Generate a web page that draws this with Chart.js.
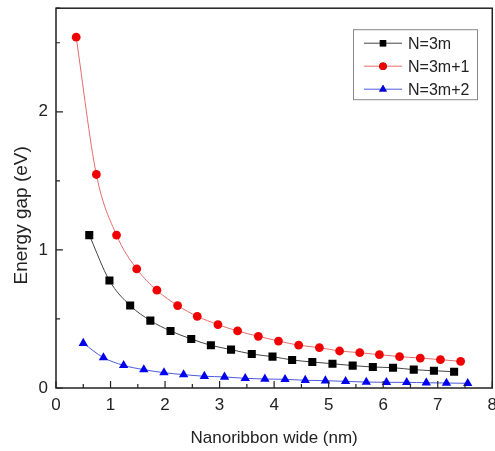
<!DOCTYPE html>
<html>
<head>
<meta charset="utf-8">
<script src="https://cdn.jsdelivr.net/npm/chart.js@4"></script>
<style>
  html, body { margin: 0; padding: 0; background: #fff; overflow: hidden; }
  #wrap { width: 495px; height: 451px; overflow: hidden; }
  #c { display: block; margin-top: -10px; }
</style>
</head>
<body>
<div id="wrap"><canvas id="c" width="504" height="461"></canvas></div>
<script>
// N=3m
const wide3m = [0.61, 0.98, 1.36, 1.73, 2.10, 2.48, 2.84, 3.21, 3.59, 3.97, 4.33, 4.70, 5.07, 5.44, 5.81, 6.18, 6.56, 6.93, 7.30];
const gap3m  = [1.107, 0.778, 0.597, 0.488, 0.413, 0.355, 0.309, 0.278, 0.246, 0.227, 0.203, 0.188, 0.176, 0.162, 0.152, 0.147, 0.133, 0.125, 0.118];
// N=3m+1
const wide3m1 = [0.37, 0.74, 1.11, 1.48, 1.85, 2.23, 2.59, 2.97, 3.33, 3.71, 4.08, 4.45, 4.83, 5.20, 5.57, 5.93, 6.30, 6.68, 7.05, 7.42];
const gap3m1  = [2.54, 1.546, 1.107, 0.862, 0.708, 0.597, 0.519, 0.459, 0.413, 0.374, 0.340, 0.310, 0.292, 0.268, 0.256, 0.241, 0.227, 0.217, 0.205, 0.193];
// N=3m+2
const wide3m2 = [0.50, 0.87, 1.24, 1.61, 1.98, 2.34, 2.72, 3.09, 3.47, 3.83, 4.20, 4.57, 4.94, 5.31, 5.69, 6.06, 6.43, 6.79, 7.16, 7.55];
const gap3m2  = [0.324, 0.220, 0.164, 0.133, 0.111, 0.097, 0.085, 0.080, 0.070, 0.065, 0.063, 0.056, 0.053, 0.048, 0.043, 0.041, 0.041, 0.038, 0.036, 0.034];

const seriesNames = ["N=3m", "N=3m+1", "N=3m+2"];
const xTitle = "Nanoribbon wide (nm)";
const yTitle = "Energy gap (eV)";

const FONT = "'Liberation Sans', Arial, sans-serif";
const TEXT = "#222";

function pts(xs, ys) { return xs.map((x, i) => ({ x: x, y: ys[i] })); }

// inward ticks, frame, y title and legend box drawn on top of the chart
const framePlugin = {
  id: "frame",
  afterDraw(chart) {
    const ctx = chart.ctx, a = chart.chartArea;
    const xs = chart.scales.x, ys = chart.scales.y;
    ctx.save();
    ctx.strokeStyle = "#222";
    ctx.lineWidth = 1.5;
    ctx.strokeRect(a.left, a.top, a.right - a.left, a.bottom - a.top);

    ctx.lineWidth = 1.2;
    ctx.beginPath();
    xs.ticks.forEach(t => {
      const px = xs.getPixelForValue(t.value);
      const len = Number.isInteger(t.value) ? 7 : 4;
      ctx.moveTo(px, a.bottom); ctx.lineTo(px, a.bottom - len);
    });
    ys.ticks.forEach(t => {
      const py = ys.getPixelForValue(t.value);
      const len = Number.isInteger(t.value) ? 7 : 4;
      ctx.moveTo(a.left, py); ctx.lineTo(a.left + len, py);
    });
    ctx.stroke();

    // y title, a bit below the middle of the axis like the original
    ctx.save();
    ctx.translate(22, ys.getPixelForValue(1.25));
    ctx.rotate(-Math.PI / 2);
    ctx.font = "19px " + FONT;
    ctx.fillStyle = TEXT;
    ctx.textAlign = "center";
    ctx.textBaseline = "middle";
    ctx.fillText(yTitle, 0, 0);
    ctx.restore();

    // legend (box sits 21px below the frame top)
    const bx = 353, by = a.top + 21, bw = 124, bh = 70;
    ctx.lineWidth = 1;
    ctx.strokeStyle = "#888";
    ctx.strokeRect(bx + 0.5, by + 0.5, bw, bh);
    ctx.font = "16px " + FONT;
    ctx.textBaseline = "middle";
    chart.data.datasets.forEach((ds, i) => {
      const y = by + 14 + i * 23;
      ctx.strokeStyle = ds.borderColor;
      ctx.lineWidth = 1;
      ctx.beginPath(); ctx.moveTo(bx + 11, y); ctx.lineTo(bx + 49, y); ctx.stroke();
      Chart.helpers.drawPoint(ctx, {
        pointStyle: ds.pointStyle, radius: ds.pointStyle === "circle" ? 3.8 : 4.5,
        borderWidth: 0
      }, bx + 30, y);
      ctx.fillStyle = ds.pointBackgroundColor;
      ctx.fill();
      ctx.fillStyle = TEXT;
      ctx.fillText(ds.label, bx + 55, y + 1);
    });
    ctx.restore();
  }
};

new Chart(document.getElementById("c").getContext("2d"), {
  type: "scatter",
  data: {
    datasets: [
      {
        label: seriesNames[0], data: pts(wide3m, gap3m), showLine: true,
        borderColor: "#444", borderWidth: 1,
        pointStyle: "rect", pointRadius: 5.7, pointBackgroundColor: "#000", pointBorderWidth: 0
      },
      {
        label: seriesNames[1], data: pts(wide3m1, gap3m1), showLine: true,
        borderColor: "#e86a6a", borderWidth: 1,
        pointStyle: "circle", pointRadius: 4.4, pointBackgroundColor: "#f00000", pointBorderWidth: 0
      },
      {
        label: seriesNames[2], data: pts(wide3m2, gap3m2), showLine: true,
        borderColor: "#4a5ad8", borderWidth: 1,
        pointStyle: "triangle", pointRadius: 5.4, pointBackgroundColor: "#0000ee", pointBorderWidth: 0
      }
    ]
  },
  options: {
    responsive: false,
    animation: false,
    cubicInterpolationMode: "monotone",
    layout: { padding: { top: 0, right: 9, left: 0, bottom: 2 } },
    plugins: { legend: { display: false }, tooltip: { enabled: false } },
    scales: {
      x: {
        type: "linear", min: 0, max: 8,
        grid: { display: false, drawTicks: false },
        border: { display: false },
        ticks: {
          stepSize: 0.5, autoSkip: false, maxRotation: 0, padding: 7,
          color: TEXT, font: { family: FONT, size: 17 },
          callback: v => Number.isInteger(v) ? String(v) : ""
        },
        title: { display: true, text: xTitle, color: TEXT, font: { family: FONT, size: 17 }, padding: { top: 9, bottom: 0 } },
        afterFit(s) { s.height = 61; }
      },
      y: {
        type: "linear", min: 0, max: 2.75,
        grid: { display: false, drawTicks: false },
        border: { display: false },
        ticks: {
          stepSize: 0.5, autoSkip: false, padding: 8,
          color: TEXT, font: { family: FONT, size: 17 },
          callback: v => Number.isInteger(v) ? String(v) : ""
        },
        title: { display: false },
        afterFit(s) { s.width = 56; }
      }
    }
  },
  plugins: [framePlugin]
});
</script>
</body>
</html>
